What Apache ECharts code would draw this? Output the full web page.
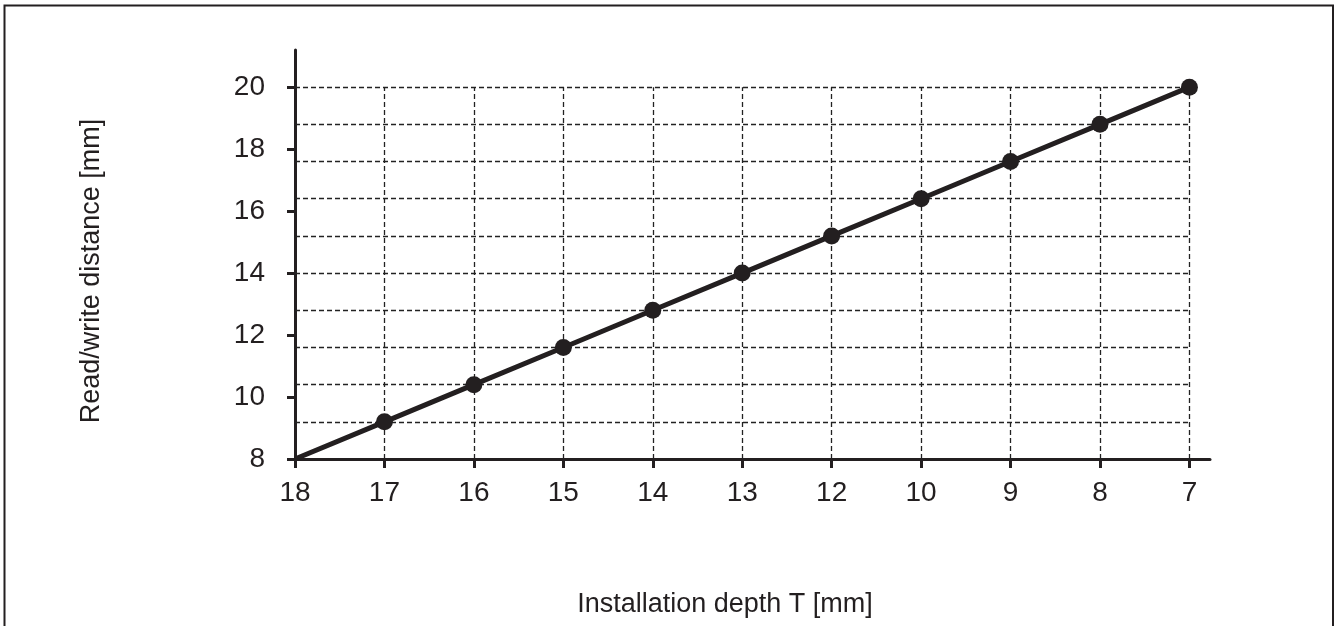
<!DOCTYPE html>
<html>
<head>
<meta charset="utf-8">
<script src="https://cdn.jsdelivr.net/npm/echarts@6/dist/echarts.min.js"></script>
<style>
html,body{margin:0;padding:0;background:#fff;}
#chart{width:1338px;height:626px;}
</style>
</head>
<body>
<div id="chart"></div>
<script>
// Data
var categories = ['18', '17', '16', '15', '14', '13', '12', '10', '9', '8', '7'];
var distances = [8.0, 9.2, 10.4, 11.6, 12.8, 14.0, 15.2, 16.4, 17.6, 18.8, 20.0];
var yTickLabels = [8, 10, 12, 14, 16, 18, 20];
var xTitle = 'Installation depth T [mm]';
var yTitle = 'Read/write distance [mm]';

var INK = '#231f20';
var FONT = "'Liberation Sans', Arial, Helvetica, sans-serif";

var idx = categories.map(function (c, i) { return i; });
var lastIdx = categories.length - 1;

var seriesData = distances.map(function (v, i) {
  var item = { value: [i, v] };
  if (i === 0) { item.symbol = 'none'; }
  return item;
});

var gridLines = [];
// horizontal dashed lines at each measured distance
distances.forEach(function (v, i) {
  if (i === 0) return;
  gridLines.push([{ coord: [0, v] }, { coord: [lastIdx, v] }]);
});
// vertical dashed lines at each category
idx.forEach(function (i) {
  if (i === 0) return;
  gridLines.push([{ coord: [i, distances[0]] }, { coord: [i, distances[lastIdx]] }]);
});

var chart = echarts.init(document.getElementById('chart'));
chart.setOption({
  backgroundColor: '#ffffff',
  animation: false,
  grid: { left: 295, right: 128, top: 50, bottom: 167, containLabel: false },
  xAxis: {
    type: 'value',
    min: 0,
    max: 10.23,
    interval: 1,
    axisLine: { show: true, onZero: false, lineStyle: { color: INK, width: 3 } },
    axisTick: { show: true, inside: false, length: 9, customValues: idx, lineStyle: { color: INK, width: 3 } },
    axisLabel: {
      customValues: idx,
      margin: 20,
      color: INK,
      fontFamily: FONT,
      fontSize: 28,
      formatter: function (v) { return categories[Math.round(v)]; }
    },
    splitLine: { show: false }
  },
  yAxis: {
    type: 'value',
    min: 8,
    max: 21.2,
    axisLine: { show: true, onZero: false, lineStyle: { color: INK, width: 3 } },
    axisTick: { show: true, inside: false, length: 8, customValues: yTickLabels, lineStyle: { color: INK, width: 3 } },
    axisLabel: {
      customValues: yTickLabels,
      margin: 30,
      color: INK,
      fontFamily: FONT,
      fontSize: 28
    },
    splitLine: { show: false }
  },
  graphic: [
    {
      type: 'rect',
      shape: { x: 4.5, y: 5.5, width: 1328.5, height: 700 },
      style: { fill: 'none', stroke: INK, lineWidth: 2 },
      silent: true
    },
    {
      type: 'text',
      x: 725, y: 605,
      style: { text: xTitle, font: "27px " + FONT, fill: INK, textAlign: 'center', textVerticalAlign: 'middle' }
    },
    {
      type: 'text',
      x: 92, y: 271,
      rotation: Math.PI / 2,
      style: { text: yTitle, font: "27px " + FONT, fill: INK, textAlign: 'center', textVerticalAlign: 'middle' }
    }
  ],
  series: [{
    type: 'line',
    data: seriesData,
    symbol: 'circle',
    symbolSize: 17,
    lineStyle: { color: INK, width: 5 },
    itemStyle: { color: INK },
    z: 5,
    markLine: {
      silent: true,
      symbol: ['none', 'none'],
      label: { show: false },
      lineStyle: { color: '#222', width: 1.3, type: [5, 3] },
      emphasis: { disabled: true },
      z: 1,
      data: gridLines
    }
  }]
});
</script>
</body>
</html>
